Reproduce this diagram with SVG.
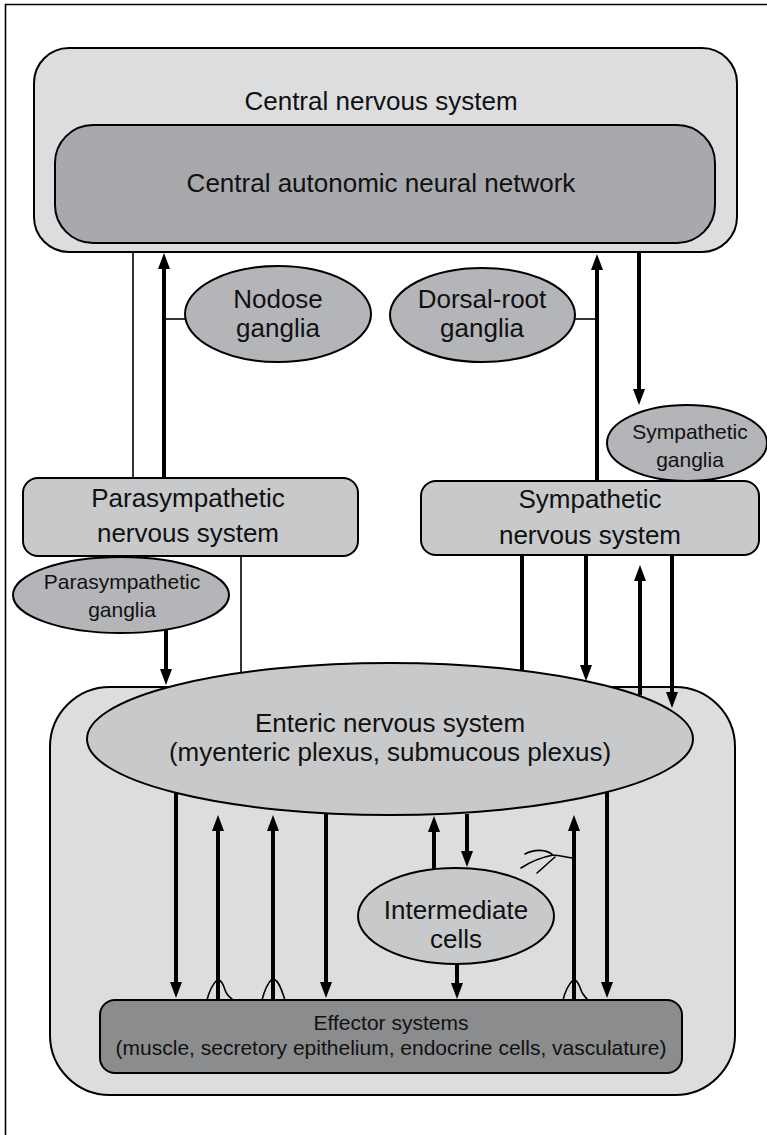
<svg xmlns="http://www.w3.org/2000/svg" width="767" height="1135" viewBox="0 0 767 1135">
  <style>
    .box { stroke: #000; stroke-width: 2; }
    .light { fill: #dcdddf; }
    .mid { fill: #c8c9cb; }
    .gang { fill: #b4b5b8; }
    .dark { fill: #a8a9ac; }
    .eff { fill: #8b8c8e; }
    text { font-family: "Liberation Sans", Arial, Helvetica, sans-serif; fill: #111; text-anchor: middle; }
    .big { font-size: 26px; }
    .small { font-size: 21px; }
    .thick { stroke: #000; stroke-width: 4; fill: none; }
    .thin { stroke: #000; stroke-width: 1.6; fill: none; }
    .ending { stroke: #000; stroke-width: 1.6; fill: none; stroke-linecap: round; }
  </style>
  <defs>
    <marker id="ah" viewBox="0 0 16 12" refX="4" refY="6" markerWidth="16" markerHeight="12" orient="auto" markerUnits="userSpaceOnUse">
      <path d="M0,0 L16,6 L0,12 z" fill="#000"/>
    </marker>
  </defs>

  <rect width="767" height="1135" fill="#fff"/>
  <!-- frame -->
  <path d="M5.5,1135 V4.5 H767" fill="none" stroke="#000" stroke-width="1.6"/>

  <g id="cns">
    <rect class="box light" x="34" y="48" width="703" height="204" rx="35"/>
    <text class="big" x="381" y="110">Central nervous system</text>
  </g>
  <g id="cann">
    <rect class="box dark" x="55" y="125" width="660" height="118" rx="38"/>
    <text class="big" x="381" y="192">Central autonomic neural network</text>
  </g>

  <g id="nodose">
    <ellipse class="box gang" cx="278" cy="314" rx="93" ry="48"/>
    <text class="big" x="278" y="308">Nodose</text>
    <text class="big" x="278" y="337">ganglia</text>
  </g>
  <g id="drg">
    <ellipse class="box gang" cx="482.5" cy="315" rx="92.5" ry="47"/>
    <text class="big" x="482" y="308">Dorsal-root</text>
    <text class="big" x="482" y="337">ganglia</text>
  </g>
  <g id="symp-ganglia">
    <ellipse class="box gang" cx="687" cy="443" rx="80" ry="38"/>
    <text class="small" x="690" y="439">Sympathetic</text>
    <text class="small" x="690" y="467">ganglia</text>
  </g>

  <g id="pns">
    <rect class="box mid" x="23" y="478" width="335" height="78" rx="15"/>
    <text class="big" x="188" y="507">Parasympathetic</text>
    <text class="big" x="188" y="542">nervous system</text>
  </g>
  <g id="sns">
    <rect class="box mid" x="421" y="481" width="338" height="74" rx="15"/>
    <text class="big" x="590" y="508">Sympathetic</text>
    <text class="big" x="590" y="544">nervous system</text>
  </g>
  <g id="para-ganglia">
    <ellipse class="box gang" cx="121" cy="595" rx="108" ry="38"/>
    <text class="small" x="122" y="589">Parasympathetic</text>
    <text class="small" x="122" y="617">ganglia</text>
  </g>

  <g id="gut-wall">
    <rect class="box light" x="50" y="687" width="685" height="408" rx="60"/>
  </g>
  <g id="ens">
    <ellipse class="box mid" cx="390" cy="739" rx="303" ry="76"/>
    <text class="big" x="390" y="732">Enteric nervous system</text>
    <text class="big" x="390" y="761">(myenteric plexus, submucous plexus)</text>
  </g>
  <g id="intermediate">
    <ellipse class="box mid" cx="456" cy="916" rx="98" ry="48"/>
    <text class="big" x="456" y="919">Intermediate</text>
    <text class="big" x="456" y="948">cells</text>
  </g>
  <g id="effector">
    <rect class="box eff" x="100" y="1000" width="582" height="73" rx="15"/>
    <text class="small" x="391" y="1030">Effector systems</text>
    <text class="small" x="391" y="1055">(muscle, secretory epithelium, endocrine cells, vasculature)</text>
  </g>

  <g id="connectors">
    <!-- thin links -->
    <line class="thin" x1="133" y1="252" x2="133" y2="478"/>
    <line class="thin" x1="241" y1="556" x2="241" y2="673"/>
    <line class="thin" x1="164" y1="319" x2="185" y2="319"/>
    <line class="thin" x1="575" y1="319" x2="597" y2="319"/>

    <!-- afferent pathways up to the CNS -->
    <line class="thick" x1="164" y1="478" x2="164" y2="265" marker-end="url(#ah)"/>
    <line class="thick" x1="597" y1="481" x2="597" y2="266" marker-end="url(#ah)"/>
    <!-- sympathetic outflow -->
    <line class="thick" x1="639" y1="252" x2="639" y2="393" marker-end="url(#ah)"/>
    <line class="thick" x1="522" y1="555" x2="522" y2="671"/>
    <line class="thick" x1="586" y1="555" x2="586" y2="669" marker-end="url(#ah)"/>
    <line class="thick" x1="640" y1="695" x2="640" y2="577" marker-end="url(#ah)"/>
    <line class="thick" x1="672" y1="555" x2="672" y2="696" marker-end="url(#ah)"/>
    <!-- parasympathetic outflow -->
    <line class="thick" x1="166" y1="630" x2="166" y2="673" marker-end="url(#ah)"/>

    <!-- enteric to effectors and back -->
    <line class="thick" x1="176" y1="793" x2="176" y2="986" marker-end="url(#ah)"/>
    <line class="thick" x1="218" y1="1000" x2="218" y2="827" marker-end="url(#ah)"/>
    <line class="thick" x1="273" y1="1000" x2="273" y2="827" marker-end="url(#ah)"/>
    <line class="thick" x1="326" y1="813" x2="326" y2="986" marker-end="url(#ah)"/>
    <line class="thick" x1="434" y1="869" x2="434" y2="828" marker-end="url(#ah)"/>
    <line class="thick" x1="467" y1="814" x2="467" y2="855" marker-end="url(#ah)"/>
    <line class="thick" x1="457" y1="964" x2="457" y2="987" marker-end="url(#ah)"/>
    <line class="thick" x1="574" y1="1000" x2="574" y2="827" marker-end="url(#ah)"/>
    <line class="thick" x1="607" y1="792" x2="607" y2="986" marker-end="url(#ah)"/>

    <!-- sensory endings -->
    <path class="ending" d="M207,1000 C209,992 212,985 217,980 M219,980 C224,982 224,990 227,994 C229,997 231,998 233,1000"/>
    <path class="ending" d="M262,1000 C264,992 267,984 272,979 M274,979 C280,982 282,992 285,1000"/>
    <path class="ending" d="M563,1000 C565,992 568,985 573,980 M575,980 C580,983 580,990 583,994 C585,997 586,998 588,1000"/>
    <path class="ending" d="M573,858 C566,858 561,855 553,855 M553,855 C546,849 534,849 525,854 M553,855 C543,857 530,862 521,868 M555,857 C549,862 543,868 537,873"/>
  </g>
</svg>
